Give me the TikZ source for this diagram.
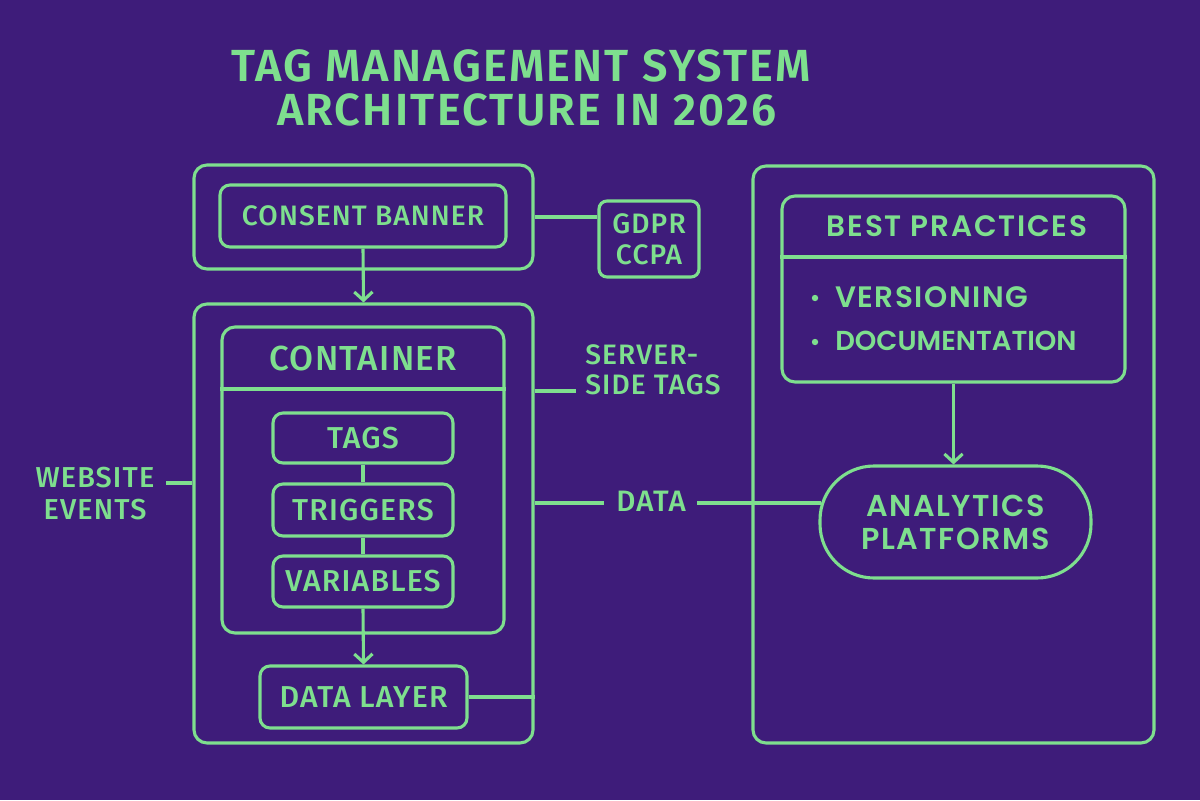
\documentclass[tikz,border=0pt]{standalone}
\usepackage{fontspec}
\setmainfont{Fira Sans}[UprightFont=* Medium, BoldFont=* SemiBold, LetterSpace=4]
\newfontfamily\popfont{Poppins}[UprightFont=* SemiBold]
\usetikzlibrary{arrows.meta,positioning,calc}
\definecolor{bgpurple}{HTML}{3E1C7A}
\definecolor{lgreen}{HTML}{7EDF8E}
\newdimen\pxu \pxu=0.025cm
\tikzset{
  lnk/.style={draw=lgreen, line width=2.2pt},
  boxx/.style={draw=lgreen, line width=2.2pt, rounded corners=10\pxu, inner sep=0pt, text=lgreen, align=center},
  lbl/.style={text=lgreen, inner sep=0pt, align=center},
  arr/.style={lnk, -{Straight Barb[length=6pt,width=13pt,line width=2.2pt]}},
}
\begin{document}
\begin{tikzpicture}[x=0.025cm,y=-0.025cm, font=\fontsize{21.5pt}{25pt}\selectfont]
\fill[bgpurple] (0,0) rectangle (1200,800);
\useasboundingbox (0,0) rectangle (1200,800);

% title
\node[lbl, font=\fontsize{32pt}{37pt}\selectfont\bfseries\addfontfeature{LetterSpace=5}] (title1) at (521,66) {TAG MANAGEMENT SYSTEM};
\node[lbl, font=\fontsize{32pt}{37pt}\selectfont\bfseries\addfontfeature{LetterSpace=5}] (title2) at (527,110) {ARCHITECTURE IN 2026};

% consent group
\node[boxx, minimum width=339\pxu, minimum height=104\pxu, rounded corners=13\pxu] (consentOuter) at (363.5,217) {};
\node[boxx, minimum width=286\pxu, minimum height=62\pxu, font=\fontsize{20pt}{24pt}\selectfont] (consent) at (363,216) {CONSENT BANNER};
\node[boxx, minimum width=100\pxu, minimum height=76\pxu, rounded corners=8\pxu, font=\fontsize{20pt}{31\pxu}\selectfont] (gdpr) at (649,239) {GDPR\\CCPA};

% container group
\node[boxx, minimum width=339\pxu, minimum height=439\pxu, rounded corners=13\pxu] (contOuter) at (363.5,523.5) {};
\node[boxx, minimum width=282\pxu, minimum height=306\pxu, rounded corners=13\pxu] (contInner) at (363,480) {};
\coordinate (contDiv) at (363,389);
\draw[lnk] (contDiv -| contInner.west) -- (contDiv -| contInner.east);
\node[lbl, font=\fontsize{24.7pt}{30pt}\selectfont] (contTitle) at (363,358) {CONTAINER};

\node[boxx, minimum width=180\pxu, minimum height=50\pxu] (tags) at (363,438) {TAGS};
\node[boxx, minimum width=180\pxu, minimum height=52\pxu] (triggers) at (363,510) {TRIGGERS};
\node[boxx, minimum width=180\pxu, minimum height=51\pxu] (variables) at (363,581.5) {VARIABLES};
\node[boxx, minimum width=207\pxu, minimum height=62\pxu] (datalayer) at (363.5,697) {DATA LAYER};

% best practices group
\node[boxx, minimum width=401\pxu, minimum height=577\pxu, rounded corners=13\pxu] (rightOuter) at (953.5,454.5) {};
\node[boxx, minimum width=343\pxu, minimum height=186\pxu, rounded corners=13\pxu] (best) at (953.5,289) {};
\coordinate (bestDiv) at (953,257);
\draw[lnk] (bestDiv -| best.west) -- (bestDiv -| best.east);
\node[lbl, font=\fontsize{21pt}{25pt}\popfont\addfontfeature{LetterSpace=6}] (bestTitle) at (957,226) {BEST PRACTICES};
\node[lbl, anchor=west, font=\fontsize{21pt}{25pt}\popfont\addfontfeature{LetterSpace=5}] (vers) at (835,297) {VERSIONING};
\node[lbl, anchor=west, font=\fontsize{19.5pt}{25pt}\popfont] (docu) at (835,341) {DOCUMENTATION};
\fill[lgreen] (815,298) circle (3.2);
\fill[lgreen] (815,342) circle (3.2);
\node[boxx, minimum width=271\pxu, minimum height=112\pxu, rounded corners=54\pxu, font=\fontsize{21.5pt}{33\pxu}\popfont\addfontfeature{LetterSpace=5}] (analytics) at (955.5,522) {ANALYTICS\\PLATFORMS};

% side labels
\node[lbl, font=\fontsize{20.5pt}{32\pxu}\selectfont] (website) at (95,494) {WEBSITE\\EVENTS};
\node[lbl, align=left, anchor=west, font=\fontsize{20pt}{30\pxu}\selectfont] (server) at (585,370) {SERVER-\\SIDE TAGS};
\node[lbl, font=\fontsize{21pt}{24pt}\selectfont] (data) at (651,501) {DATA};

\coordinate (webEnd) at (166,483);
\coordinate (serverEnd) at (576,391);
\coordinate (dataL) at (604,503);
\coordinate (dataR) at (697,503);

% connectors
\draw[lnk] (consentOuter.east) -- (consentOuter.east -| gdpr.west);
\draw[arr] (consent.south) -- (contOuter.north);
\draw[lnk] (tags.south) -- (triggers.north);
\draw[lnk] (triggers.south) -- (variables.north);
\draw[arr] (variables.south) -- (datalayer.north);
\draw[lnk] (datalayer.east) -- (datalayer.east -| contOuter.east);
\draw[lnk] (webEnd) -- (webEnd -| contOuter.west);
\draw[lnk] (serverEnd -| contOuter.east) -- (serverEnd);
\draw[lnk] (dataL -| contOuter.east) -- (dataL);
\draw[lnk] (dataR) -- ($(dataR -| analytics.west)+(3,0)$);
\draw[arr] (best.south) -- (best.south |- analytics.north);
\end{tikzpicture}
\end{document}
